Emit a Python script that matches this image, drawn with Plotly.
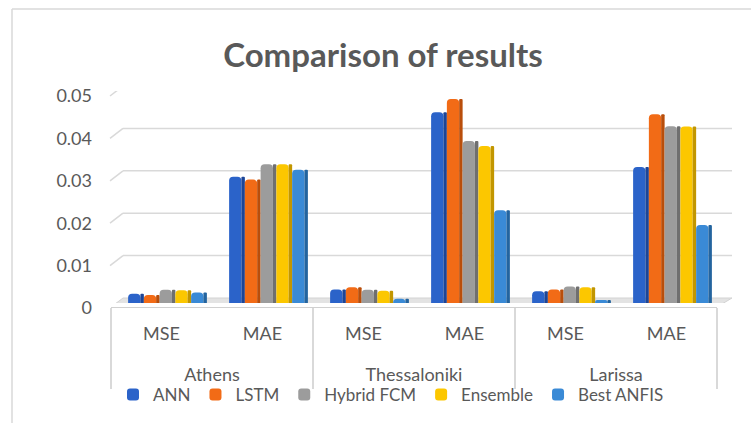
import plotly.graph_objects as go

# ---- data -------------------------------------------------------------
cities = ["Athens", "Thessaloniki", "Larissa"]
metrics = ["MSE", "MAE"]
models = ["ANN", "LSTM", "Hybrid FCM", "Ensemble", "Best ANFIS"]

# values per (city, metric): Athens MSE, Athens MAE, Thessaloniki MSE, ...
ann = [0.0022, 0.0298, 0.0032, 0.0450, 0.0028, 0.0321]
lstm = [0.0019, 0.0291, 0.0037, 0.0481, 0.0032, 0.0445]
hybrid_fcm = [0.0031, 0.0327, 0.0031, 0.0382, 0.0039, 0.0417]
ensemble = [0.0030, 0.0327, 0.0029, 0.0370, 0.0037, 0.0416]
best_anfis = [0.0025, 0.0314, 0.0010, 0.0219, 0.0007, 0.0184]

y_ticks = [0, 0.01, 0.02, 0.03, 0.04, 0.05]
y_tick_text = ["0", "0.01", "0.02", "0.03", "0.04", "0.05"]

# ---- styling ----------------------------------------------------------
W, H = 751, 423
FONT = "Lato"
TEXT = "#595959"
GRID = "#d9d9d9"
colors = ["#2b63c9", "#f26b16", "#9c9c9c", "#fcc700", "#3a8ad6"]
sides = ["#1c4597", "#b94e0b", "#6f6f6f", "#c29600", "#23649f"]
series = [ann, lstm, hybrid_fcm, ensemble, best_anfis]

# plot area in pixels
x_left, x_right = 111, 717          # category box
y_zero, y_top = 303, 91              # bar base / 0.05 level
y_front = 307                        # front edge of the floor
box_bottom = 388                     # lower end of the category dividers
depth_dx, depth_dy = 12, 5           # offset of the back wall


def px_x(p):
    return p / W


def px_y(p):
    return 1 - p / H


# one slot per (city, metric) pair along the x axis
pairs = [(c, m) for c in cities for m in metrics]
slots = list(range(len(pairs)))
slot_text = [m for _, m in pairs]
city_pos = [sum(slots[k * len(metrics):(k + 1) * len(metrics)]) / len(metrics)
            for k in range(len(cities))]
bounds = [k * len(metrics) - 0.5 for k in range(len(cities) + 1)]

fig = go.Figure()

n = len(models)
cat_px = (x_right - x_left) / len(pairs)
bar_w = 0.156
front_w = bar_w * 0.78
shift = (depth_dx / 2) / cat_px
start = -bar_w * n / 2 + shift
for i, (name, vals) in enumerate(zip(models, series)):
    fig.add_trace(go.Bar(
        name=name, x=slots, y=vals,
        width=front_w, offset=start + i * bar_w,
        marker=dict(color=colors[i], line=dict(width=0), cornerradius=4),
    ))
    # darker side face for the 3-D look
    fig.add_trace(go.Bar(
        name=name, x=slots, y=vals, showlegend=False, hoverinfo="skip",
        width=bar_w - front_w, offset=start + i * bar_w + front_w,
        marker=dict(color=sides[i], line=dict(width=0), cornerradius=2),
    ))

# empty traces so the city-label axis and the divider axis get drawn
for ax in ("x2", "x3"):
    fig.add_trace(go.Scatter(x=[], y=[], xaxis=ax, yaxis="y", mode="markers",
                             showlegend=False, hoverinfo="skip"))

shapes = []
# chart frame
shapes.append(dict(type="line", xref="paper", yref="paper",
                   x0=px_x(12), x1=1.01, y0=px_y(9), y1=px_y(9),
                   line=dict(color=GRID, width=1.5)))
shapes.append(dict(type="line", xref="paper", yref="paper",
                   x0=px_x(12), x1=px_x(12), y0=px_y(9), y1=-0.01,
                   line=dict(color=GRID, width=1.5)))

# floor of the 3-D box (pixel offsets: positive = upwards)
xl, xr = px_x(x_left), px_x(x_right)
bl, br = px_x(x_left + depth_dx), px_x(x_right + depth_dx + 3)
shapes.append(dict(type="path", xref="paper", yref="y", ysizemode="pixel",
                   yanchor=0, layer="below",
                   path=f"M {xl},{y_zero - y_front} L {xr},{y_zero - y_front} "
                        f"L {br},{depth_dy} L {bl},{depth_dy} Z",
                   fillcolor="#e3e3e3", line=dict(color="#d3d3d3", width=1)))

# back-wall gridlines with the short diagonal towards the tick labels
for v in y_ticks[1:]:
    shapes.append(dict(type="line", xref="paper", yref="y", ysizemode="pixel",
                       yanchor=v, layer="below",
                       x0=bl, x1=br, y0=depth_dy, y1=depth_dy,
                       line=dict(color=GRID, width=1.5)))
    shapes.append(dict(type="line", xref="paper", yref="y", ysizemode="pixel",
                       yanchor=v, layer="below",
                       x0=px_x(x_left - 1), x1=bl, y0=-depth_dy, y1=depth_dy,
                       line=dict(color=GRID, width=1.5)))

x_range = [-0.5, len(pairs) - 0.5]
axis_font = dict(family=FONT, size=18, color=TEXT)

fig.update_layout(
    width=W, height=H,
    margin=dict(l=0, r=0, t=0, b=0, autoexpand=False),
    paper_bgcolor="white", plot_bgcolor="rgba(0,0,0,0)",
    font=dict(family=FONT, color=TEXT, size=18),
    title=dict(text="<b>Comparison of results</b>", x=px_x(383), y=px_y(55),
               xanchor="center", yanchor="middle",
               font=dict(family=FONT, size=33, color=TEXT)),
    showlegend=True,
    legend=dict(orientation="h", x=px_x(391), y=px_y(395),
                xanchor="center", yanchor="middle",
                font=dict(family=FONT, size=17, color=TEXT),
                bgcolor="rgba(0,0,0,0)"),
    barmode="overlay",
    # metric labels + front edge line
    xaxis=dict(domain=[px_x(x_left), px_x(x_right)], range=x_range,
               anchor="free", position=px_y(y_front),
               tickvals=slots, ticktext=slot_text, tickfont=axis_font,
               ticklabelstandoff=10,
               showline=True, linecolor="#d0d0d0", linewidth=1,
               ticks="", showgrid=False, zeroline=False, fixedrange=True),
    # city labels
    xaxis2=dict(overlaying="x", matches="x", anchor="free",
                position=px_y(y_front),
                tickvals=city_pos, ticktext=cities, tickfont=axis_font,
                ticklabelstandoff=55, ticks="",
                showline=False, showgrid=False, zeroline=False),
    # group dividers
    xaxis3=dict(overlaying="x", matches="x", anchor="free",
                position=px_y(y_front),
                tickvals=bounds, ticks="outside", ticklen=box_bottom - y_front,
                tickwidth=1.5, tickcolor=GRID, showticklabels=False,
                showline=False, showgrid=False, zeroline=False),
    yaxis=dict(domain=[px_y(y_zero), px_y(y_top)], range=[0, 0.05],
               tickvals=y_ticks, ticktext=y_tick_text,
               ticklabelshift=5, ticklabelstandoff=18,
               showgrid=False, zeroline=False, showline=False, ticks="",
               tickfont=axis_font),
    shapes=shapes,
)

fig.write_html("out.html")
